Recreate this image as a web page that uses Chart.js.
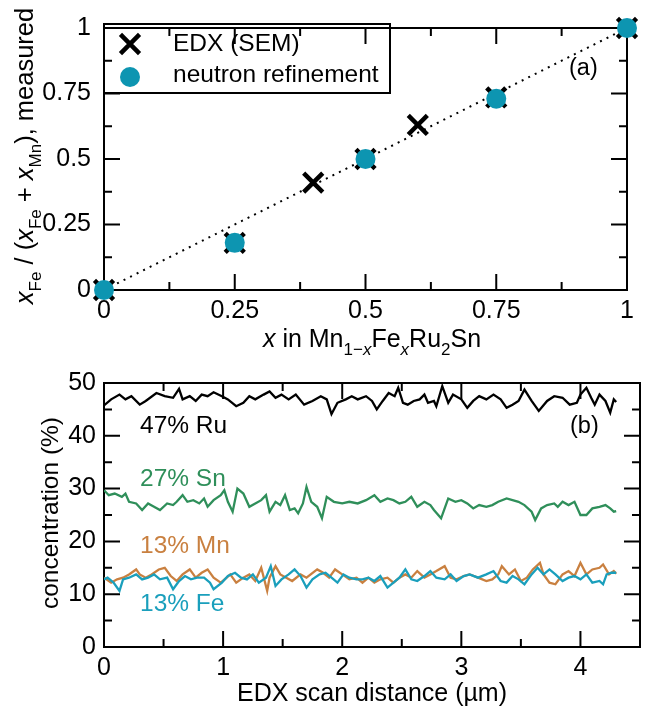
<!DOCTYPE html>
<html><head><meta charset="utf-8">
<script src="https://cdn.jsdelivr.net/npm/chart.js@4.4.0/dist/chart.umd.min.js"></script>
<style>
html,body{margin:0;padding:0;background:#fff;}
#wrap{position:relative;width:645px;height:707px;overflow:hidden;}
.box{position:absolute;left:0;width:645px;}
canvas{display:block;}
</style></head><body>
<div id="wrap">
<div class="box" style="top:0;height:360px"><canvas id="c1" width="645" height="360"></canvas></div>
<div class="box" style="top:360px;height:347px"><canvas id="c2" width="645" height="347"></canvas></div>
</div>
<script>
// ---------- DATA ----------
// panel (a)
const edxX = [0, 0.25, 0.4, 0.5, 0.6, 0.75, 1];
const edxY = [0, 0.18, 0.41, 0.5, 0.63, 0.735, 1];
const neutronX = [0, 0.25, 0.5, 0.75, 1];
const neutronY = [0, 0.18, 0.5, 0.73, 1];
const guideX = [0, 1];
const guideY = [0, 1];
const aTicks = [0, 0.25, 0.5, 0.75, 1];
const aTickLabels = ['0', '0.25', '0.5', '0.75', '1'];
const aMinor = [0.125, 0.375, 0.625, 0.875];

// panel (b): [distance (µm), concentration (%)]
const ru = [[0,45.75],[0.06,46.9],[0.13,47.8],[0.18,46.9],[0.23,47.5],[0.30,45.9],[0.35,46.6],[0.44,48.1],[0.51,47.5],[0.58,47.2],
[0.63,48.9],[0.66,46.9],[0.72,47.5],[0.77,46.6],[0.82,47.8],[0.87,47.5],[0.92,48.25],[0.99,47.5],[1.04,46.9],[1.11,45.6],
[1.17,46.25],[1.22,47.5],[1.27,46.9],[1.34,47.8],[1.39,48.4],[1.44,47.2],[1.49,47.8],[1.55,46.9],[1.61,47.8],[1.68,45.9],
[1.75,46.6],[1.82,47.5],[1.87,46.9],[1.91,44.1],[1.96,46.25],[2.03,46.9],[2.08,47.5],[2.13,46.9],[2.20,47.5],[2.25,46.6],
[2.29,45.0],[2.34,46.6],[2.39,48.1],[2.44,47.5],[2.47,49.1],[2.51,46.25],[2.55,45.9],[2.60,46.6],[2.65,46.9],[2.69,47.8],
[2.72,46.25],[2.77,46.6],[2.79,45.6],[2.84,49.4],[2.89,46.25],[2.93,47.8],[3.00,46.9],[3.05,45.3],[3.10,46.6],[3.15,47.5],
[3.21,46.9],[3.27,47.8],[3.33,46.9],[3.38,45.3],[3.43,45.9],[3.48,46.6],[3.53,48.75],[3.59,46.6],[3.65,44.7],[3.72,46.6],
[3.78,47.5],[3.85,47.2],[3.91,45.9],[3.97,46.25],[4.00,47.8],[4.05,49.1],[4.09,47.2],[4.12,45.9],[4.16,47.8],[4.21,46.6],
[4.25,44.4],[4.28,46.9],[4.30,46.4]];
const sn = [[0,29.7],[0.04,28.75],[0.09,29.06],[0.15,28.44],[0.18,29.06],[0.21,27.5],[0.27,27.19],[0.32,25.94],[0.37,27.19],[0.42,26.56],
[0.47,25.94],[0.53,27.19],[0.58,26.88],[0.61,27.5],[0.66,28.75],[0.70,27.5],[0.75,27.81],[0.80,27.19],[0.84,28.13],[0.87,26.56],
[0.92,27.81],[0.98,28.75],[1.01,29.69],[1.04,27.5],[1.08,25.63],[1.12,30.0],[1.17,29.06],[1.22,26.56],[1.27,27.19],[1.32,27.81],
[1.36,28.75],[1.39,25.63],[1.44,27.5],[1.48,26.88],[1.52,28.75],[1.56,25.94],[1.60,26.25],[1.63,25.31],[1.67,27.19],[1.70,30.31],
[1.74,27.5],[1.79,26.56],[1.83,24.38],[1.87,28.44],[1.93,27.5],[2.00,27.19],[2.06,27.5],[2.13,27.19],[2.20,27.81],[2.27,28.75],
[2.32,27.5],[2.38,28.13],[2.43,27.81],[2.48,27.19],[2.53,27.5],[2.58,28.44],[2.63,26.56],[2.69,27.5],[2.74,26.88],[2.77,25.94],
[2.83,24.38],[2.86,26.25],[2.89,28.13],[2.95,27.5],[3.00,27.81],[3.05,27.19],[3.10,26.25],[3.15,26.88],[3.21,26.56],[3.26,26.88],
[3.31,27.5],[3.38,28.13],[3.43,27.81],[3.48,27.5],[3.53,26.88],[3.59,25.63],[3.62,24.06],[3.67,26.25],[3.72,26.88],[3.78,27.19],
[3.81,26.56],[3.85,27.5],[3.90,26.88],[3.95,27.5],[4.00,25.0],[4.05,25.0],[4.10,26.25],[4.16,26.56],[4.21,26.88],[4.25,26.25],
[4.28,25.63],[4.30,25.75]];
const mn = [[0,13.13],[0.06,12.19],[0.11,12.81],[0.16,13.13],[0.21,13.75],[0.27,14.69],[0.30,13.75],[0.35,13.13],[0.40,13.75],[0.46,14.69],
[0.51,15.0],[0.56,13.44],[0.61,12.5],[0.66,13.75],[0.72,14.69],[0.77,13.13],[0.82,14.06],[0.87,14.69],[0.92,13.13],[0.98,12.19],
[1.03,13.13],[1.06,13.75],[1.11,12.19],[1.17,13.13],[1.22,13.75],[1.27,12.5],[1.32,15.0],[1.37,10.63],[1.39,13.13],[1.44,15.31],
[1.48,13.75],[1.53,13.13],[1.58,12.5],[1.65,13.75],[1.70,13.13],[1.79,14.69],[1.84,14.06],[1.89,13.13],[1.94,14.69],[2.00,13.75],
[2.06,12.81],[2.12,13.13],[2.17,12.19],[2.22,13.13],[2.27,12.19],[2.32,12.81],[2.38,13.13],[2.43,12.19],[2.48,13.13],[2.53,13.75],
[2.58,13.13],[2.63,14.38],[2.69,13.13],[2.74,13.75],[2.79,14.38],[2.86,15.31],[2.91,13.13],[2.96,12.81],[3.02,13.44],[3.07,13.75],
[3.14,13.13],[3.21,12.5],[3.26,12.81],[3.31,13.75],[3.34,15.31],[3.40,13.75],[3.45,14.69],[3.50,12.5],[3.55,13.13],[3.60,14.69],
[3.66,15.94],[3.69,13.75],[3.74,12.19],[3.79,11.88],[3.85,13.75],[3.90,14.38],[3.95,13.44],[4.00,15.94],[4.05,13.75],[4.10,14.69],
[4.16,15.0],[4.19,15.63],[4.24,13.75],[4.28,14.38],[4.30,13.88]];
const fe = [[0,12.81],[0.03,13.13],[0.08,12.19],[0.13,10.63],[0.16,12.81],[0.21,13.13],[0.27,13.75],[0.32,12.81],[0.37,13.13],[0.42,13.75],
[0.47,12.81],[0.53,13.13],[0.58,10.94],[0.63,12.5],[0.68,13.44],[0.73,12.81],[0.78,13.13],[0.84,13.13],[0.89,12.19],[0.92,10.94],
[0.99,12.19],[1.04,13.44],[1.10,14.06],[1.15,13.13],[1.20,12.81],[1.25,13.75],[1.30,12.19],[1.36,13.13],[1.40,15.31],[1.44,11.56],
[1.49,12.81],[1.55,13.75],[1.60,14.69],[1.65,13.44],[1.70,11.25],[1.75,12.81],[1.81,13.75],[1.86,14.06],[1.91,13.13],[1.96,12.19],
[2.01,13.75],[2.06,13.13],[2.12,12.81],[2.17,12.81],[2.22,13.13],[2.27,12.5],[2.32,13.44],[2.38,11.25],[2.43,12.19],[2.48,13.13],
[2.53,14.69],[2.58,12.81],[2.63,12.5],[2.69,13.44],[2.74,14.38],[2.79,13.13],[2.86,12.81],[2.91,13.75],[2.96,12.5],[3.02,13.44],
[3.07,13.75],[3.14,13.13],[3.21,13.75],[3.27,14.38],[3.33,12.5],[3.38,12.19],[3.43,13.44],[3.48,12.81],[3.53,11.88],[3.59,13.75],
[3.64,15.0],[3.69,13.75],[3.74,14.69],[3.79,13.75],[3.85,12.5],[3.90,13.13],[3.95,13.44],[4.00,12.81],[4.05,13.75],[4.10,12.19],
[4.16,12.5],[4.19,11.88],[4.22,13.75],[4.26,14.06],[4.30,14.06]];
const bXTicks = [0, 1, 2, 3, 4];
const bXMinor = [0.5, 1.5, 2.5, 3.5];
const bYTicks = [0, 10, 20, 30, 40, 50];
const bYMinor = [5, 15, 25, 35, 45];

// ---------- STYLE ----------
const FONT = '"Liberation Sans", Arial, Helvetica, sans-serif';
const TEAL = '#0d95b1';
const FE_C = '#1a9fbc';
const MN_C = '#c98040';
const SN_C = '#2f8f5a';

function rich(ctx, segs, x, y, size, color, align) {
  const sub = Math.round(size * 0.68);
  const fontOf = s => (s.includes('i') ? 'italic ' : '') + (s.includes('s') ? sub : size) + 'px ' + FONT;
  let w = 0;
  for (const [t, s] of segs) { ctx.font = fontOf(s); w += ctx.measureText(t).width; }
  let cx = align === 'center' ? x - w / 2 : x;
  ctx.fillStyle = color; ctx.textAlign = 'left'; ctx.textBaseline = 'alphabetic';
  for (const [t, s] of segs) {
    ctx.font = fontOf(s);
    ctx.fillText(t, cx, y + (s.includes('s') ? size * 0.3 : 0));
    cx += ctx.measureText(t).width;
  }
}

const framePlugin = {
  id: 'frame',
  beforeDatasetsDraw(chart, args, o) {
    const { ctx, chartArea: a } = chart;
    const xs = chart.scales.x, ys = chart.scales.y;
    ctx.save();
    ctx.strokeStyle = '#000'; ctx.lineWidth = 2;
    ctx.beginPath();
    const tick = (vals, len) => {
      for (const v of vals) {
        const px = xs.getPixelForValue(v);
        ctx.moveTo(px, a.bottom); ctx.lineTo(px, a.bottom - len);
        ctx.moveTo(px, a.top); ctx.lineTo(px, a.top + len);
      }
    };
    const tickY = (vals, len) => {
      for (const v of vals) {
        const py = ys.getPixelForValue(v);
        ctx.moveTo(a.left, py); ctx.lineTo(a.left + len, py);
        ctx.moveTo(a.right, py); ctx.lineTo(a.right - len, py);
      }
    };
    tick(o.xMajor, 16); tick(o.xMinor, 8); tickY(o.yMajor, 16); tickY(o.yMinor, 8);
    ctx.stroke();
    ctx.strokeRect(a.left, a.top, a.right - a.left, a.bottom - a.top);
    ctx.restore();
  }
};

const textA = {
  id: 'textA',
  afterDraw(chart) {
    const ctx = chart.ctx;
    ctx.save();
    // x title
    rich(ctx, [['x','i'],[' in Mn',''],['1\u2212','s'],['x','si'],['Fe',''],['x','si'],['Ru',''],['2','s'],['Sn','']], 372, 347, 25, '#000', 'center');
    // y title
    ctx.save();
    ctx.translate(33, 156); ctx.rotate(-Math.PI / 2);
    rich(ctx, [['x','i'],['Fe','s'],[' / (',''],['x','i'],['Fe','s'],[' + ',''],['x','i'],['Mn','s'],['), measured','']], 0, 0, 25.5, '#000', 'center');
    ctx.restore();
    // legend
    ctx.strokeStyle = '#000'; ctx.lineWidth = 2;
    ctx.strokeRect(104, 24, 286, 69);
    ctx.strokeStyle = '#000'; ctx.fillStyle = '#000'; ctx.lineWidth = 4.5;
    Chart.helpers.drawPoint(ctx, { pointStyle: 'crossRot', radius: 13.5, borderWidth: 4.5, rotation: 0 }, 130, 44);
    ctx.fillStyle = TEAL;
    ctx.beginPath(); ctx.arc(130, 77, 10, 0, Math.PI * 2); ctx.fill();
    rich(ctx, [['EDX (SEM)','']], 173, 51, 24.5, '#000', 'left');
    rich(ctx, [['neutron refinement','']], 173, 82, 24.5, '#000', 'left');
    rich(ctx, [['(a)','']], 569, 75, 23.5, '#000', 'left');
    ctx.restore();
  }
};

const textB = {
  id: 'textB',
  afterDraw(chart) {
    const ctx = chart.ctx;
    ctx.save();
    rich(ctx, [['EDX scan distance (\u00b5m)','']], 372, 341, 25, '#000', 'center');
    ctx.save();
    ctx.translate(58, 153); ctx.rotate(-Math.PI / 2);
    rich(ctx, [['concentration (%)','']], 0, 0, 24.5, '#000', 'center');
    ctx.restore();
    rich(ctx, [['47% Ru','']], 140, 73, 24.5, '#000', 'left');
    rich(ctx, [['27% Sn','']], 140, 126, 24.5, SN_C, 'left');
    rich(ctx, [['13% Mn','']], 140, 193, 24.5, MN_C, 'left');
    rich(ctx, [['13% Fe','']], 140, 251, 24.5, FE_C, 'left');
    rich(ctx, [['(b)','']], 570, 73, 23.5, '#000', 'left');
    ctx.restore();
  }
};

function axis(min, max, ticks, labels, fit, pad) {
  return {
    type: 'linear', min, max,
    grid: { display: false, drawTicks: false },
    border: { display: false },
    ticks: {
      color: '#000', font: { family: FONT, size: 25 }, padding: pad,
      maxRotation: 0, autoSkip: false,
      callback: (v, i) => labels[i]
    },
    afterBuildTicks: s => { s.ticks = ticks.map(v => ({ value: v })); },
    afterFit: fit
  };
}

const pairs = (xs, ys) => xs.map((x, i) => ({ x, y: ys[i] }));

new Chart(document.getElementById('c1'), {
  type: 'scatter',
  data: {
    datasets: [
      { label: 'EDX (SEM)', data: pairs(edxX, edxY), pointStyle: 'crossRot', pointRadius: 13.5,
        pointBorderColor: '#000', pointBackgroundColor: '#000', pointBorderWidth: 4.5, order: 1, clip: false },
      { label: 'neutron refinement', data: pairs(neutronX, neutronY), pointStyle: 'circle', pointRadius: 10,
        pointBackgroundColor: TEAL, pointBorderWidth: 0, pointBorderColor: TEAL, order: 0, clip: false },
      { label: 'guide', type: 'line', data: pairs(guideX, guideY), borderColor: '#000', borderWidth: 2,
        borderDash: [2, 5.3], pointRadius: 0, fill: false, order: 2 }
    ]
  },
  options: {
    responsive: false, animation: false, devicePixelRatio: 1, events: [],
    layout: { padding: { left: 0, right: 7, top: 24, bottom: 0 } },
    plugins: { legend: { display: false }, tooltip: { enabled: false },
      frame: { xMajor: aTicks, xMinor: aMinor, yMajor: aTicks, yMinor: aMinor } },
    scales: {
      x: axis(0, 1, aTicks, aTickLabels, s => { s.height = 70; }, 6),
      y: axis(0, 1, aTicks, aTickLabels, s => { s.width = 104; }, 13)
    }
  },
  plugins: [framePlugin, textA]
});

const lineDs = (label, data, color) => ({ label, data, showLine: true, borderColor: color, borderWidth: 2.3,
  pointRadius: 0, tension: 0, fill: false });

new Chart(document.getElementById('c2'), {
  type: 'scatter',
  data: {
    datasets: [
      lineDs('Ru', ru, '#000'),
      lineDs('Sn', sn, SN_C),
      lineDs('Fe', fe, FE_C),
      lineDs('Mn', mn, MN_C)
    ]
  },
  options: {
    responsive: false, animation: false, devicePixelRatio: 1, events: [],
    layout: { padding: { left: 0, right: 5, top: 20, bottom: 0 } },
    plugins: { legend: { display: false }, tooltip: { enabled: false },
      frame: { xMajor: bXTicks, xMinor: bXMinor, yMajor: bYTicks, yMinor: bYMinor } },
    scales: {
      x: axis(0, 4.5, bXTicks, bXTicks.map(String), s => { s.height = 60; }, 6),
      y: axis(0, 50, bYTicks, bYTicks.map(String), s => { s.width = 104; }, 8)
    }
  },
  plugins: [framePlugin, textB]
});
</script>
</body></html>
